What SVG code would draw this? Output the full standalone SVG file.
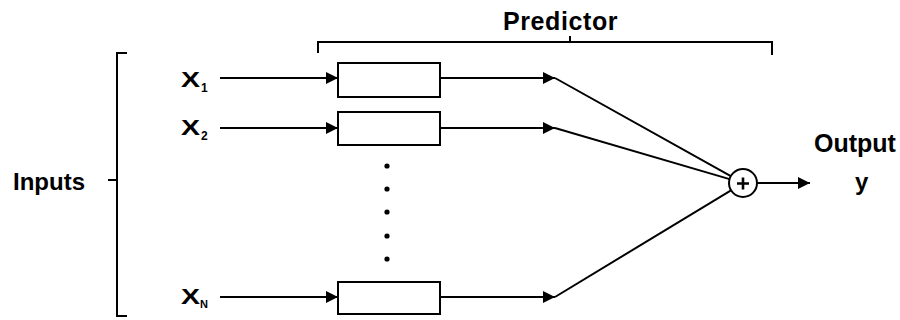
<svg xmlns="http://www.w3.org/2000/svg" width="900" height="320" viewBox="0 0 900 320">
<style>
.ln{stroke:#000;stroke-width:2;fill:none}
.bx{stroke:#000;stroke-width:2;fill:#fff}
.t{font-family:"Liberation Sans",Arial,sans-serif;font-weight:bold;fill:#000}
</style>
<defs>
<marker id="ah" markerUnits="userSpaceOnUse" markerWidth="13" markerHeight="14" refX="12" refY="6.5" orient="auto">
<path d="M0,0.5 L12,6.5 L0,12.5 Z" fill="#000"/>
</marker>
</defs>
<rect width="900" height="320" fill="#fff"/>
<g id="inputs-bracket">
<path class="ln" d="M127,53 H117 V316 H127 M117,180 H108"/>
<text class="t" x="13" y="190" font-size="24">Inputs</text>
</g>
<g id="predictor-bracket">
<path class="ln" d="M318,53 V42 H772 V55 M570,42 V36"/>
<text class="t" x="503" y="30" font-size="25" letter-spacing="0.6">Predictor</text>
</g>
<g id="x1"><text class="t" x="181" y="87" font-size="22" textLength="19" lengthAdjust="spacingAndGlyphs">X</text><text class="t" x="201" y="92" font-size="12">1</text></g>
<g id="x2"><text class="t" x="181" y="135" font-size="22" textLength="19" lengthAdjust="spacingAndGlyphs">X</text><text class="t" x="201" y="140" font-size="12">2</text></g>
<g id="xN"><text class="t" x="181" y="304" font-size="22" textLength="19" lengthAdjust="spacingAndGlyphs">X</text><text class="t" x="200" y="308" font-size="11">N</text></g>
<g id="box1"><rect class="bx" x="338" y="63" width="102" height="34"/></g>
<g id="box2"><rect class="bx" x="338" y="112" width="102" height="33"/></g>
<g id="boxN"><rect class="bx" x="338" y="282" width="102" height="32"/></g>
<g id="dots" fill="#000">
<circle cx="387" cy="166" r="2.6"/><circle cx="387" cy="189" r="2.6"/><circle cx="387" cy="212" r="2.6"/><circle cx="387" cy="236" r="2.6"/><circle cx="387" cy="259" r="2.6"/>
</g>
<g id="sum">
<circle class="bx" cx="743" cy="183" r="14"/>
<path class="ln" style="stroke-width:2.6" d="M737,183.5 H749 M743,177.5 V189.5"/>
</g>
<g id="output">
<text class="t" x="814" y="152" font-size="25">Output</text>
<text class="t" x="855" y="190" font-size="24">y</text>
</g>
<g id="connectors">
<line class="ln" x1="220" y1="78" x2="338" y2="78" marker-end="url(#ah)"/>
<line class="ln" x1="220" y1="128" x2="338" y2="128" marker-end="url(#ah)"/>
<line class="ln" x1="220" y1="297" x2="338" y2="297" marker-end="url(#ah)"/>
<line class="ln" x1="440" y1="78" x2="555" y2="78" marker-end="url(#ah)"/>
<line class="ln" x1="440" y1="128" x2="555" y2="128" marker-end="url(#ah)"/>
<line class="ln" x1="440" y1="297" x2="555" y2="297" marker-end="url(#ah)"/>
<line class="ln" x1="555" y1="78" x2="730.8" y2="176.2"/>
<line class="ln" x1="555" y1="128" x2="729.6" y2="179.1"/>
<line class="ln" x1="555" y1="297" x2="731" y2="190.3"/>
<line class="ln" x1="757" y1="183" x2="810" y2="183" marker-end="url(#ah)"/>
</g>
</svg>
